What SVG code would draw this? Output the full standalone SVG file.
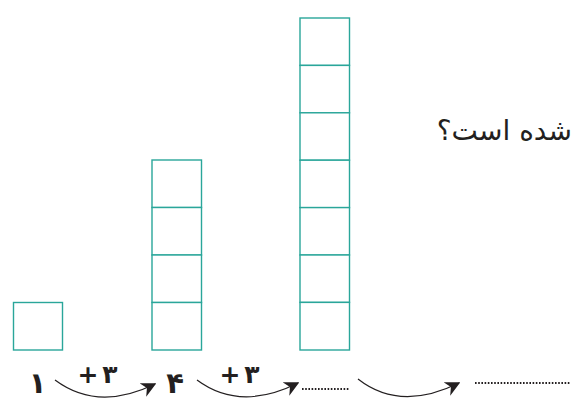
<svg xmlns="http://www.w3.org/2000/svg" width="575" height="414" viewBox="0 0 575 414">
<style>
.box{fill:#fff;stroke:#2aa69a;stroke-width:1.4}
.arc{fill:none;stroke:#231f20;stroke-width:1.2}
.dots{fill:none;stroke:#231f20;stroke-width:2;stroke-dasharray:1.6 1.6}
.num{font-family:"DejaVu Sans",sans-serif;font-size:29px;fill:#231f20;font-weight:bold}
.plus{font-family:"DejaVu Sans",sans-serif;font-size:25px;fill:#231f20;font-weight:bold}
.q{font-family:"DejaVu Sans","Noto Sans",sans-serif;font-size:28px;fill:#231f20}
</style>
<defs>
<marker id="ah" viewBox="0 0 10 10" refX="9" refY="5" markerWidth="15" markerHeight="15" markerUnits="userSpaceOnUse" orient="auto">
<path d="M0,0 L10,5 L0,10 L3,5 Z" fill="#231f20"/>
</marker>
</defs>
<g id="col1">
<rect class="box" x="13.5" y="302.5" width="49" height="47.5"/>
</g>
<g id="col2">
<rect class="box" x="152" y="160" width="49.5" height="47.5"/>
<rect class="box" x="152" y="207.5" width="49.5" height="47.5"/>
<rect class="box" x="152" y="255" width="49.5" height="47.5"/>
<rect class="box" x="152" y="302.5" width="49.5" height="47.5"/>
</g>
<g id="col3">
<rect class="box" x="300" y="18" width="49.5" height="47.4"/>
<rect class="box" x="300" y="65.4" width="49.5" height="47.4"/>
<rect class="box" x="300" y="112.8" width="49.5" height="47.4"/>
<rect class="box" x="300" y="160.2" width="49.5" height="47.4"/>
<rect class="box" x="300" y="207.6" width="49.5" height="47.4"/>
<rect class="box" x="300" y="255" width="49.5" height="47.4"/>
<rect class="box" x="300" y="302.4" width="49.5" height="47.6"/>
</g>
<g id="question">
<text class="q" x="572" y="140" text-anchor="end">شده است؟</text>
</g>
<g id="labels">
<text class="num" x="37.5" y="393" text-anchor="middle">۱</text>
<text class="num" x="175" y="393" text-anchor="middle">۴</text>
<text class="plus" x="101" y="383" text-anchor="middle"><tspan x="88">+</tspan><tspan x="110">۳</tspan></text>
<text class="plus" x="243" y="383" text-anchor="middle"><tspan x="230">+</tspan><tspan x="252">۳</tspan></text>
</g>
<g id="connectors">
<path class="arc" d="M55,380 Q98,412 155,384" marker-end="url(#ah)"/>
<path class="arc" d="M197,380 Q240,412 298,383" marker-end="url(#ah)"/>
<path class="arc" d="M358,379 Q400,412 459,383" marker-end="url(#ah)"/>
<line class="dots" x1="302" y1="389" x2="350" y2="389"/>
<line class="dots" x1="475" y1="383" x2="570" y2="383"/>
</g>
</svg>
